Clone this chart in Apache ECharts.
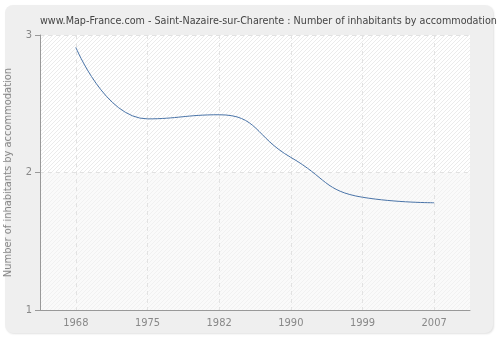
<!DOCTYPE html>
<html>
<head>
<meta charset="utf-8">
<script src="https://cdn.jsdelivr.net/npm/echarts@6/dist/echarts.min.js"></script>
<style>
  html, body { margin: 0; padding: 0; background: #ffffff; }
  #frame { position: absolute; left: 5px; top: 5px; width: 488px; height: 328px;
           background: #efefef; border-radius: 8px;
           box-shadow: 1px 1px 2px rgba(0,0,0,0.12); }
  #chart { position: absolute; left: 0; top: 0; width: 500px; height: 340px; }
</style>
</head>
<body>
<div id="frame"></div>
<div id="chart"></div>
<script>
// Census years and average number of inhabitants per dwelling
const years = ['1968', '1975', '1982', '1990', '1999', '2007'];
const inhabitants = [2.91, 2.39, 2.42, 2.11, 1.82, 1.78];
const yTicks = [1, 2, 3];

const titleText = 'www.Map-France.com - Saint-Nazaire-sur-Charente : Number of inhabitants by accommodation';
const yAxisTitle = 'Number of inhabitants by accommodation';

// Diagonal "/" hatch tile used to fill the plot background bands
function hatch(bg, stroke) {
  const s = 4;
  const c = document.createElement('canvas');
  c.width = s; c.height = s;
  const g = c.getContext('2d');
  g.fillStyle = bg; g.fillRect(0, 0, s, s);
  g.fillStyle = stroke;
  for (let i = 0; i < s; i++) g.fillRect(i, s - 1 - i, 1, 1);
  return { image: c, repeat: 'repeat' };
}

const font = 'DejaVu Sans Condensed';
const chart = echarts.init(document.getElementById('chart'), null, { renderer: 'canvas' });
chart.setOption({
  backgroundColor: 'transparent',
  animation: false,
  title: {
    text: titleText,
    left: 35, top: 11,
    textStyle: { fontFamily: font, fontSize: 10.7, fontWeight: 'normal', color: '#444' }
  },
  grid: {
    left: 40, right: 30, top: 35, bottom: 30,
    outerBoundsMode: 'none', containLabel: false,
    show: true, backgroundColor: '#ffffff', borderWidth: 0
  },
  xAxis: {
    type: 'category',
    data: years,
    boundaryGap: true,
    z: 2,
    axisLine: { lineStyle: { color: '#999', width: 1 } },
    axisTick: { alignWithLabel: true, length: 5, lineStyle: { color: '#999' } },
    axisLabel: { color: '#888', fontFamily: font, fontSize: 11, margin: 8 },
    splitLine: { show: true, alignWithLabel: true, interval: 0, lineStyle: { color: '#e2e2e2', type: [4, 4] } }
  },
  yAxis: {
    type: 'value',
    min: yTicks[0], max: yTicks[yTicks.length - 1], interval: 1,
    z: 2,
    name: yAxisTitle,
    nameLocation: 'middle',
    nameGap: 26,
    nameMoveOverlap: false,
    nameTextStyle: { color: '#888', fontFamily: font, fontSize: 11 },
    axisLine: { show: true, lineStyle: { color: '#999', width: 1 } },
    axisTick: { show: true, length: 5, lineStyle: { color: '#999' } },
    axisLabel: { color: '#888', fontFamily: font, fontSize: 11, margin: 8 },
    splitLine: { show: true, lineStyle: { color: '#e2e2e2', type: [4, 4] } }
  },
  series: [{
    type: 'line',
    data: inhabitants,
    smooth: 0.5,
    symbol: 'none',
    z: 3,
    lineStyle: { color: '#4a74a8', width: 1 },
    markArea: {
      silent: true,
      z: 1,
      data: [
        [{ yAxis: 2, itemStyle: { color: hatch('#ffffff', '#ebebeb') } }, { yAxis: 3 }],
        [{ yAxis: 1, itemStyle: { color: hatch('#fafafa', '#f1f1f1') } }, { yAxis: 2 }]
      ]
    }
  }]
});
</script>
</body>
</html>
